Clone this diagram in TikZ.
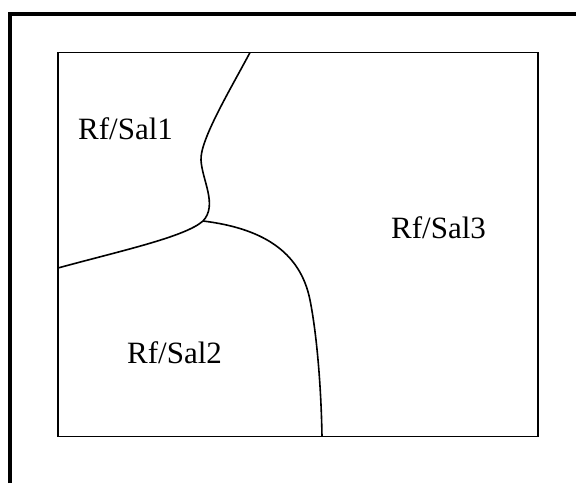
\documentclass[tikz,border=0pt]{standalone}
\usepackage{fontspec}
\setmainfont{Liberation Serif}
\begin{document}
\begin{tikzpicture}[x=1pt,y=-1pt,
  frame/.style={line width=3.3pt},
  box/.style={line width=1.6pt},
  border/.style={line width=1.6pt},
  lbl/.style={anchor=base west,inner sep=0pt,font=\fontsize{31}{37}\selectfont}]
\useasboundingbox (0,0) rectangle (576,483);
% outer frame (partial)
\coordinate (OB) at (10,483);
\coordinate (OT) at (10,14);
\coordinate (OR) at (576,14);
\draw[frame] (OB) -- (OT) -- (OR);
% inner box
\coordinate (TL) at (58,52.5);
\coordinate (BR) at (538,436.5);
\draw[box] (TL) rectangle (BR);
% junction and boundary ends
\coordinate (J) at (203,221);
\coordinate (T) at (250,52.5);
\coordinate (L) at (58,268);
\coordinate (B) at (322,436.5);
\draw[border] (T) .. controls (230,90) and (200,140) .. (201,160)
  .. controls (202,180) and (218,205) .. (J);
\draw[border] (L) .. controls (120,251) and (185,237) .. (J);
\draw[border] (J) .. controls (260,228) and (300,250) .. (310,300)
  .. controls (316,330) and (321,380) .. (B);
% labels
\node[lbl] (s1) at (78,139) {Rf/Sal1};
\node[lbl] (s3) at (391,238) {Rf/Sal3};
\node[lbl] (s2) at (127,363) {Rf/Sal2};
\end{tikzpicture}
\end{document}
